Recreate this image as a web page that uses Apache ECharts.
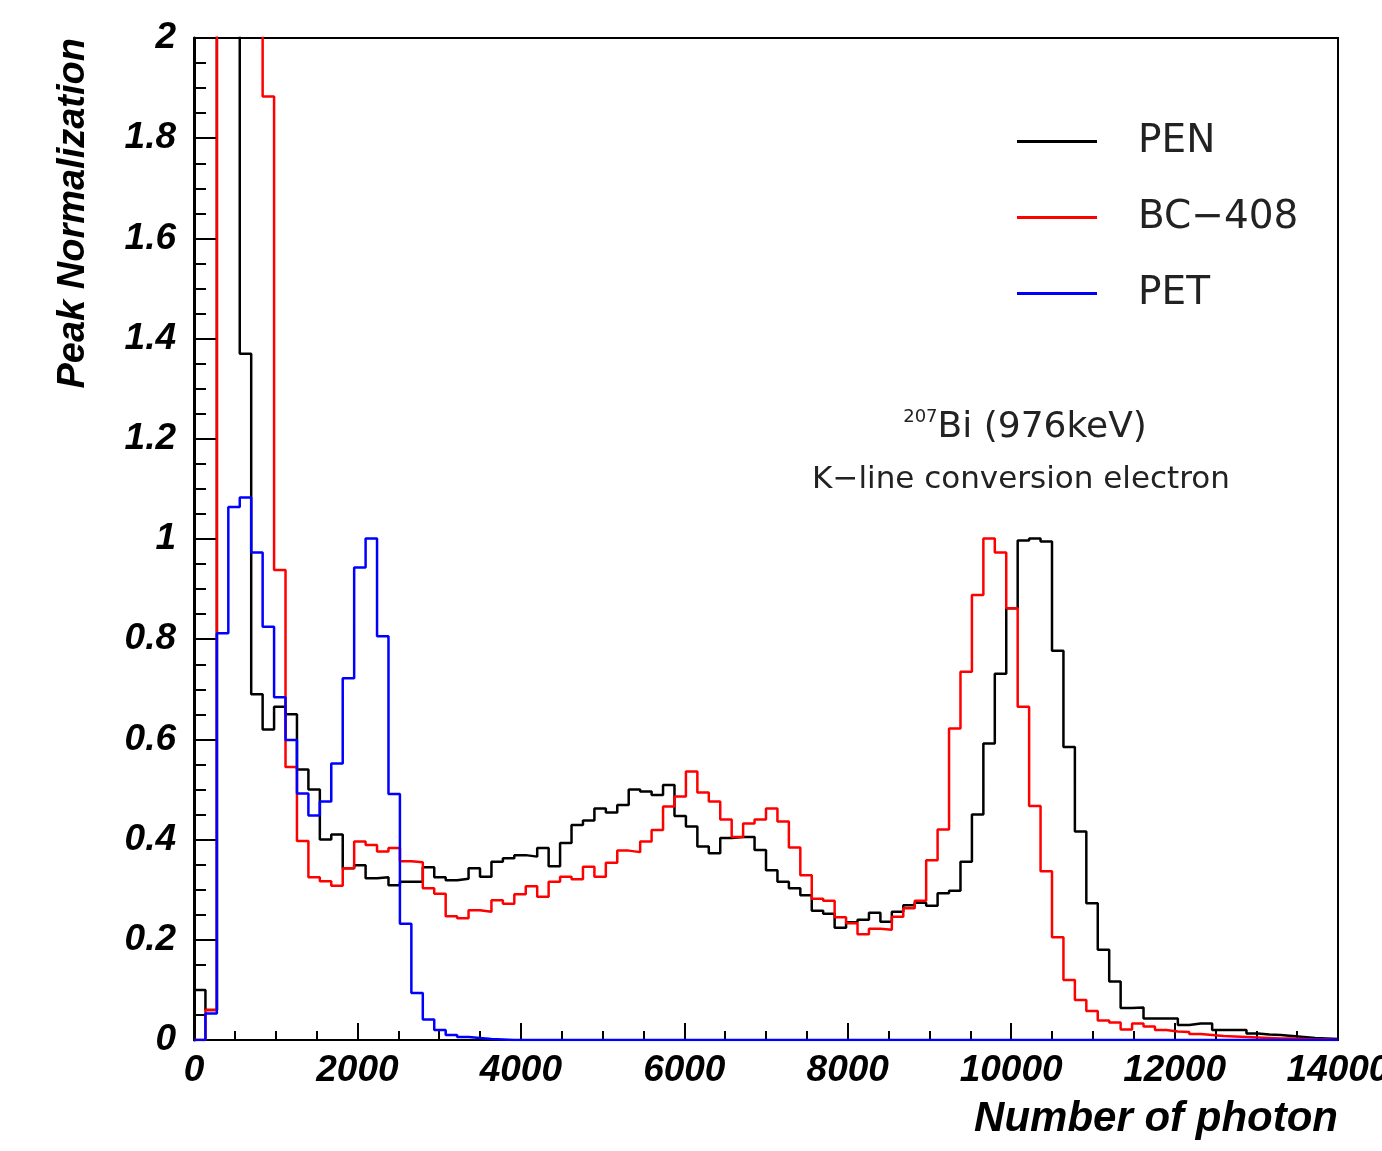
<!DOCTYPE html>
<html>
<head>
<meta charset="utf-8">
<title>Peak Normalization</title>
<script src="https://cdn.jsdelivr.net/npm/echarts@6/dist/echarts.min.js"></script>
<style>
html,body{margin:0;padding:0;background:#fff;}
#chart_div{width:1382px;height:1151px;}
</style>
</head>
<body>
<div id="chart_div"></div>
<script>
// histogram: 100 bins of 140 photons, 0 - 14000
var BIN_WIDTH = 140;
var seriesNames = ["PEN", "BC\u2212408", "PET"];
var seriesColors = ["#000000", "#ff0000", "#0000ff"];
var xTicks = [0, 2000, 4000, 6000, 8000, 10000, 12000, 14000];

// bins 2-3 of PEN and 2-5 of BC-408 run off the top of the frame
var penValues = [
	0.10, 0.06, 3.0, 2.5, 1.37, 0.69, 0.62, 0.665, 0.65, 0.54,
	0.50, 0.40, 0.41, 0.343, 0.349, 0.323, 0.325, 0.309, 0.316, 0.316,
	0.345, 0.325, 0.319, 0.322, 0.343, 0.326, 0.356, 0.363, 0.369, 0.366,
	0.383, 0.347, 0.393, 0.429, 0.438, 0.462, 0.454, 0.469, 0.50, 0.496,
	0.489, 0.509, 0.447, 0.426, 0.386, 0.373, 0.403, 0.405, 0.405, 0.379,
	0.339, 0.316, 0.303, 0.289, 0.258, 0.252, 0.224, 0.235, 0.24, 0.254,
	0.236, 0.256, 0.269, 0.274, 0.268, 0.293, 0.298, 0.356, 0.45, 0.592,
	0.731, 0.862, 0.997, 1.001, 0.995, 0.777, 0.585, 0.416, 0.273, 0.18,
	0.117, 0.064, 0.065, 0.043, 0.043, 0.043, 0.03, 0.033, 0.033, 0.02,
	0.02, 0.02, 0.013, 0.011, 0.01, 0.008, 0.006, 0.004, 0.003, 0.002
];

var bcValues = [
	0, 0.06, 5.0, 5.0, 5.0, 4.0, 1.883, 0.938, 0.545, 0.397,
	0.325, 0.317, 0.308, 0.343, 0.396, 0.389, 0.376, 0.383, 0.357, 0.355,
	0.303, 0.292, 0.247, 0.243, 0.259, 0.256, 0.279, 0.272, 0.291, 0.307,
	0.286, 0.316, 0.326, 0.321, 0.346, 0.326, 0.354, 0.378, 0.375, 0.396,
	0.419, 0.466, 0.486, 0.536, 0.494, 0.476, 0.44, 0.405, 0.432, 0.44,
	0.462, 0.436, 0.384, 0.329, 0.282, 0.278, 0.245, 0.233, 0.211, 0.222,
	0.22, 0.246, 0.263, 0.278, 0.359, 0.42, 0.622, 0.735, 0.888, 1.001,
	0.973, 0.862, 0.665, 0.467, 0.337, 0.205, 0.12, 0.08, 0.058, 0.039,
	0.035, 0.021, 0.033, 0.027, 0.02, 0.017, 0.016, 0.012, 0.01, 0.008,
	0.007, 0.006, 0.005, 0.004, 0.003, 0.003, 0.002, 0.001, 0.001, 0
];

var petValues = [
	0, 0.053, 0.812, 1.064, 1.083, 0.973, 0.825, 0.684, 0.599, 0.492,
	0.448, 0.476, 0.552, 0.722, 0.943, 1.001, 0.806, 0.491, 0.232, 0.094,
	0.041, 0.02, 0.01, 0.006, 0.004, 0.002, 0.001, 0, 0, 0,
	0, 0, 0, 0, 0, 0, 0, 0, 0, 0,
	0, 0, 0, 0, 0, 0, 0, 0, 0, 0,
	0, 0, 0, 0, 0, 0, 0, 0, 0, 0,
	0, 0, 0, 0, 0, 0, 0, 0, 0, 0,
	0, 0, 0, 0, 0, 0, 0, 0, 0, 0,
	0, 0, 0, 0, 0, 0, 0, 0, 0, 0,
	0, 0, 0, 0, 0, 0, 0, 0, 0, 0
];

var AXIS_FONT = "Liberation Sans";
var TEXT_FONT = "DejaVu Sans";

// bin values -> [lower edge, value] points, closed at the last edge
function toSteps(values) {
	var data = [];
	for (var i = 0, l = values.length; i < l; i++) {
		data.push([i * BIN_WIDTH, values[i]]);
	}
	data.push([values.length * BIN_WIDTH, values[values.length - 1]]);
	return data;
}

function getSeries() {
	var all = [penValues, bcValues, petValues];
	var list = [];
	for (var i = 0; i < all.length; i++) {
		list.push({
			name : seriesNames[i],
			type : 'line',
			step : 'end',
			symbol : 'none',
			clip : true,
			data : toSteps(all[i]),
			itemStyle : { color : seriesColors[i] },
			lineStyle : { color : seriesColors[i], width : 2.5 }
		});
	}
	return list;
}

function axisFont(size) {
	return {
		fontFamily : AXIS_FONT,
		fontWeight : 'bold',
		fontStyle : 'italic',
		fontSize : size,
		color : '#000'
	};
}

function initChart() {
	var chart = echarts.init(document.getElementById("chart_div"), null, { renderer : 'canvas' });
	var xLabel = axisFont(37);
	xLabel.margin = 12;
	xLabel.customValues = xTicks;
	xLabel.formatter = function(value) {
		return String(value);
	};
	var yLabel = axisFont(37);
	yLabel.margin = 18;

	var xName = axisFont(42);
	xName.align = 'right';
	xName.verticalAlign = 'top';
	xName.padding = [58, 0, 0, 0];
	var yName = axisFont(38);
	yName.align = 'right';
	yName.verticalAlign = 'bottom';
	yName.padding = [0, 0, 101, 0];

	var option = {
		animation : false,
		backgroundColor : '#fff',
		grid : {
			left : 194, right : 44, top : 38, bottom : 111,
			show : true, borderColor : '#000', borderWidth : 2,
			outerBoundsMode : 'none'
		},
		legend : {
			orient : 'vertical',
			left : 1012,
			top : 116,
			icon : 'rect',
			itemWidth : 80,
			itemHeight : 3,
			itemGap : 35,
			textStyle : { fontFamily : TEXT_FONT, fontSize : 39, color : '#222', lineHeight : 41, padding : [0, 0, 0, 36] },
			data : seriesNames
		},
		xAxis : {
			type : 'value',
			min : 0,
			max : 14000,
			interval : 2000,
			name : 'Number of photon',
			nameLocation : 'end',
			nameGap : 0,
			nameMoveOverlap : false,
			nameTextStyle : xName,
			axisLine : { onZero : false, lineStyle : { color : '#000', width : 2 } },
			axisTick : { inside : true, length : 17, lineStyle : { color : '#000', width : 2 } },
			minorTick : { show : true, splitNumber : 4, length : 9, lineStyle : { color : '#000', width : 2 } },
			axisLabel : xLabel,
			splitLine : { show : false }
		},
		yAxis : {
			type : 'value',
			min : 0,
			max : 2,
			interval : 0.2,
			name : 'Peak Normalization',
			nameLocation : 'end',
			nameGap : 0,
			nameRotate : 90,
			nameMoveOverlap : false,
			nameTextStyle : yName,
			axisLine : { lineStyle : { color : '#000', width : 3 } },
			axisTick : { inside : true, length : 22, lineStyle : { color : '#000', width : 2 } },
			minorTick : { show : true, splitNumber : 4, length : 12, lineStyle : { color : '#000', width : 2 } },
			axisLabel : yLabel,
			splitLine : { show : false }
		},
		graphic : [ {
			type : 'text',
			x : 1025,
			y : 428,
			style : {
				text : '{s|207}{b|Bi (976keV)}',
				align : 'center',
				verticalAlign : 'middle',
				fill : '#222',
				rich : {
					s : { fontFamily : TEXT_FONT, fontSize : 18, fill : '#222', verticalAlign : 'top', lineHeight : 40 },
					b : { fontFamily : TEXT_FONT, fontSize : 36, fill : '#222', lineHeight : 40 }
				}
			}
		}, {
			type : 'text',
			x : 1021,
			y : 480,
			style : {
				text : 'K\u2212line conversion electron',
				fontFamily : TEXT_FONT,
				fontSize : 31,
				fill : '#222',
				align : 'center',
				verticalAlign : 'middle'
			}
		} ],
		series : getSeries()
	};
	chart.setOption(option);
}

initChart();
</script>
</body>
</html>
